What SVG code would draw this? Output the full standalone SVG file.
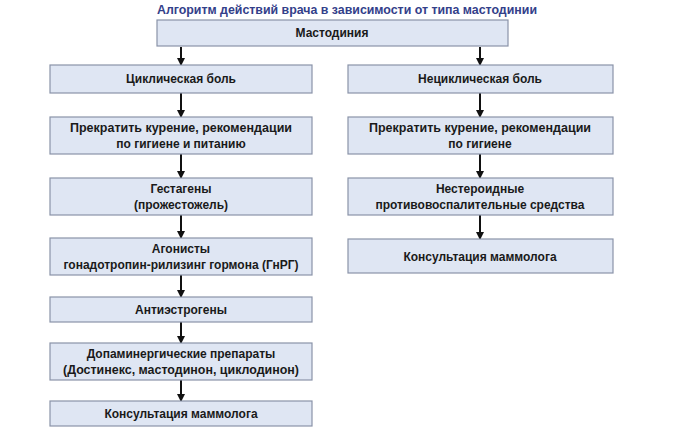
<svg xmlns="http://www.w3.org/2000/svg" width="680" height="432" viewBox="0 0 680 432">
<defs>
<marker id="ah" markerWidth="8" markerHeight="8" refX="7" refY="4" orient="auto" markerUnits="userSpaceOnUse"><path d="M0,0 L8,4 L0,8 Z" fill="#111"/></marker>
<style>
.b{fill:#dfe6f3;stroke:#8a93a8;stroke-width:1.2}
.t{font-family:"Liberation Sans",Arial,sans-serif;font-weight:bold;font-size:12px;fill:#1a1a1a;text-anchor:middle}
.c{stroke:#111;stroke-width:2;fill:none;marker-end:url(#ah)}
</style>
</defs>
<rect width="680" height="432" fill="#fff"/>
<text x="347" y="14" class="t" style="fill:#33408a" textLength="380" lengthAdjust="spacingAndGlyphs">Алгоритм действий врача в зависимости от типа мастодинии</text>
<g id="connectors">
<path class="c" d="M181,47 V65"/><path class="c" d="M480,47 V65"/>
<path class="c" d="M181,93 V117"/><path class="c" d="M181,154 V178"/><path class="c" d="M181,215 V238"/><path class="c" d="M181,275 V297"/><path class="c" d="M181,322 V343"/><path class="c" d="M181,380 V401"/>
<path class="c" d="M480,93 V117"/><path class="c" d="M480,154 V178"/><path class="c" d="M480,215 V239"/>
</g>
<g id="n0"><rect class="b" x="157" y="20" width="351" height="26"/><text class="t" x="332" y="37">Мастодиния</text></g>
<g id="l1"><rect class="b" x="50" y="65" width="262" height="28"/><text class="t" x="181" y="83">Циклическая боль</text></g>
<g id="l2"><rect class="b" x="50" y="117" width="262" height="37"/><text class="t" x="181" y="132" textLength="222" lengthAdjust="spacingAndGlyphs">Прекратить курение, рекомендации</text><text class="t" x="181" y="148">по гигиене и питанию</text></g>
<g id="l3"><rect class="b" x="50" y="178" width="262" height="37"/><text class="t" x="181" y="193">Гестагены</text><text class="t" x="181" y="209">(прожестожель)</text></g>
<g id="l4"><rect class="b" x="50" y="238" width="262" height="37"/><text class="t" x="181" y="253">Агонисты</text><text class="t" x="181" y="269">гонадотропин-рилизинг гормона (ГнРГ)</text></g>
<g id="l5"><rect class="b" x="50" y="297" width="262" height="25"/><text class="t" x="181" y="314">Антиэстрогены</text></g>
<g id="l6"><rect class="b" x="50" y="343" width="262" height="37"/><text class="t" x="181" y="358">Допаминергические препараты</text><text class="t" x="181" y="374" textLength="236" lengthAdjust="spacingAndGlyphs">(Достинекс, мастодинон, циклодинон)</text></g>
<g id="l7"><rect class="b" x="50" y="401" width="262" height="25"/><text class="t" x="181" y="418">Консультация маммолога</text></g>
<g id="r1"><rect class="b" x="348" y="65" width="265" height="28"/><text class="t" x="480" y="83">Нециклическая боль</text></g>
<g id="r2"><rect class="b" x="348" y="117" width="265" height="37"/><text class="t" x="480" y="132" textLength="222" lengthAdjust="spacingAndGlyphs">Прекратить курение, рекомендации</text><text class="t" x="480" y="148">по гигиене</text></g>
<g id="r3"><rect class="b" x="348" y="178" width="265" height="37"/><text class="t" x="480" y="193">Нестероидные</text><text class="t" x="480" y="209">противовоспалительные средства</text></g>
<g id="r4"><rect class="b" x="348" y="239" width="265" height="34"/><text class="t" x="480" y="261">Консультация маммолога</text></g>
</svg>
